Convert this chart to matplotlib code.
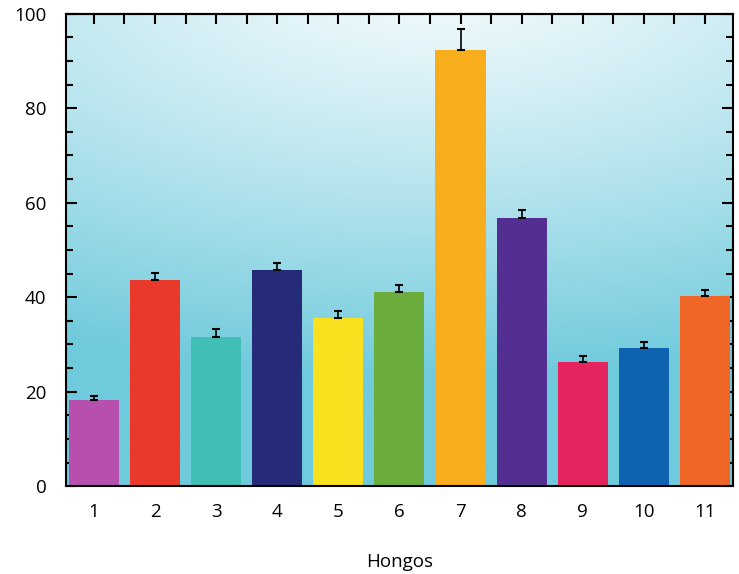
import numpy as np
import matplotlib.pyplot as plt
from matplotlib.colors import to_rgb
from matplotlib.ticker import MultipleLocator

# fungus number, mean value and error
hongos = [1, 2, 3, 4, 5, 6, 7, 8, 9, 10, 11]
valores = [18.2, 43.6, 31.5, 45.8, 35.6, 41.2, 92.3, 56.7, 26.3, 29.2, 40.2]
errores = [0.9, 1.6, 1.8, 1.5, 1.4, 1.3, 4.4, 1.8, 1.2, 1.3, 1.4]
colores = ['#b64fae', '#e8392b', '#41beb6', '#262b79', '#f9e11f', '#6aad3d',
           '#f8ad1d', '#542f92', '#e5245f', '#0f62b0', '#f06626']

plt.rcParams['font.family'] = ['Open Sans', 'DejaVu Sans']

fig = plt.figure(figsize=(7.39, 5.74), dpi=100)
ax = fig.add_axes([0.089, 0.153, 0.903, 0.823])

# gradient background: pale at the top, sky blue at the bottom
ny, nx = 200, 200
yy, xx = np.mgrid[0:1:ny * 1j, 0:1:nx * 1j]
d = np.sqrt(((xx - 0.55) / 1.4) ** 2 + ((yy - 1.08) / 0.9) ** 2)
t = np.clip(d / 0.95, 0, 1) ** 1.2
top = np.array(to_rgb('#f4fbfd'))
bot = np.array(to_rgb('#6fcadc'))
img = top[None, None, :] * (1 - t[..., None]) + bot[None, None, :] * t[..., None]
ax.imshow(img, origin='lower', extent=[0, 1, 0, 1], transform=ax.transAxes,
          aspect='auto', zorder=0)

ax.bar(hongos, valores, width=0.82, color=colores, zorder=2)
ax.errorbar(hongos, valores, yerr=[[0] * len(errores), errores], fmt='none',
            ecolor='black', elinewidth=1.2, capsize=3, capthick=1.5, zorder=3)

ax.set_xlim(0.54, 11.46)
ax.set_ylim(0, 100)
ax.set_xticks(hongos)
ax.set_yticks([0, 20, 40, 60, 80, 100])
ax.yaxis.set_minor_locator(MultipleLocator(5))
ax.tick_params(axis='x', which='both', length=0, labelsize=13.5, pad=12)
ax.tick_params(axis='y', which='both', direction='in', right=True,
               labelsize=13.5, pad=14)
ax.tick_params(axis='y', which='major', length=8, width=1.5)
ax.tick_params(axis='y', which='minor', length=5, width=1.5)

# ticks along the top edge
sec = ax.secondary_xaxis('top')
sec.set_xticks(np.arange(1, 12, 0.5))
sec.tick_params(direction='in', length=7, width=1.5, labelsize=0, labeltop=False)

for s in ['left', 'top', 'right', 'bottom']:
    ax.spines[s].set_linewidth(1.5)
sec.spines['top'].set_linewidth(1.5)

ax.set_xlabel('Hongos', fontsize=13.5, labelpad=23)

fig.savefig('out.png', dpi=100)
